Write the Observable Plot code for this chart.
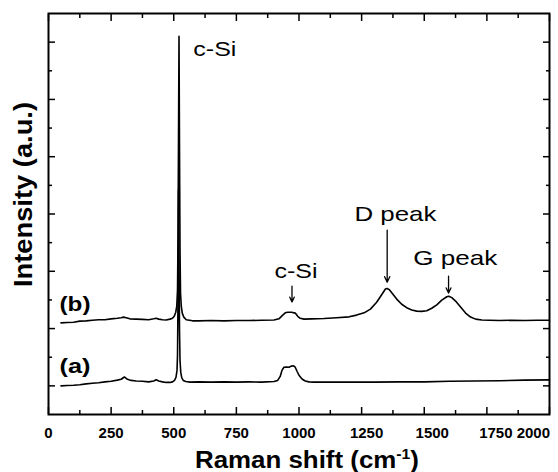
<!DOCTYPE html>
<html><head><meta charset="utf-8">
<script src="https://cdn.jsdelivr.net/npm/d3@7"></script>
<script src="https://cdn.jsdelivr.net/npm/@observablehq/plot@0.6"></script>
<style>html,body{margin:0;padding:0;background:#fff;}</style>
</head><body><div id="chart"></div>
<script>
// ---- data ----
const xMajor = [0, 250, 500, 750, 1000, 1250, 1500, 1750, 2000];
const xMinor = [125, 375, 625, 875, 1125, 1375, 1625, 1875];
const yMajor = [1, 3, 5, 7, 9, 11, 13];
const yMinor = [2, 4, 6, 8, 10, 12];

// spectrum (b)
const bShift = [50,75,100,125,150,175,200,225,250,275,290,300,310,325,350,375,400,420,430,440,455,470,485,495,502,508,512,515,517,519,521,523,525,527,530,534,540,550,575,600,650,700,750,800,850,900,920,935,945,955,970,985,995,1005,1020,1050,1100,1150,1200,1230,1260,1285,1310,1330,1345,1352,1360,1375,1390,1410,1430,1450,1470,1490,1510,1530,1550,1570,1590,1598,1610,1625,1645,1665,1685,1705,1730,1760,1800,1850,1900,1950,2000];
const bInt = [3.20,3.21,3.22,3.26,3.27,3.29,3.31,3.31,3.34,3.36,3.38,3.40,3.38,3.34,3.33,3.32,3.31,3.34,3.36,3.33,3.31,3.30,3.33,3.36,3.43,3.57,3.78,4.34,6.09,9.59,13.2,9.24,5.74,4.24,3.78,3.54,3.40,3.31,3.27,3.27,3.28,3.27,3.28,3.28,3.29,3.30,3.34,3.47,3.55,3.57,3.57,3.54,3.43,3.36,3.33,3.34,3.35,3.38,3.41,3.47,3.55,3.68,3.92,4.18,4.38,4.40,4.36,4.20,4.03,3.85,3.73,3.65,3.61,3.60,3.62,3.71,3.83,3.99,4.11,4.13,4.08,3.96,3.75,3.54,3.40,3.33,3.30,3.29,3.28,3.29,3.28,3.29,3.29];

// spectrum (a)
const aShift = [50,75,100,125,150,175,200,225,250,275,290,303,315,330,350,375,400,420,430,440,455,470,485,495,503,509,513,515,517,519,521,523,525,528,532,538,548,565,600,650,700,750,800,850,900,915,925,932,940,950,960,970,978,985,992,1000,1012,1025,1040,1060,1100,1200,1300,1400,1500,1600,1700,1800,1900,2000];
const aInt = [1.00,1.01,1.02,1.04,1.07,1.09,1.11,1.14,1.16,1.20,1.23,1.31,1.23,1.19,1.17,1.16,1.14,1.17,1.21,1.17,1.14,1.12,1.12,1.14,1.19,1.30,1.54,2.07,3.99,7.84,5.39,2.94,1.89,1.47,1.28,1.19,1.15,1.13,1.14,1.13,1.14,1.13,1.14,1.13,1.15,1.19,1.33,1.54,1.65,1.66,1.65,1.69,1.70,1.65,1.51,1.37,1.24,1.17,1.14,1.13,1.13,1.13,1.13,1.14,1.14,1.16,1.17,1.18,1.20,1.21];

// annotations
const noteText = ["c-Si", "c-Si", "D peak", "G peak", "(b)", "(a)"];
const noteX    = [664, 988, 1385, 1624, 44, 44];
const noteY    = [12.51, 4.78, 6.76, 5.22, 3.61, 1.45];
const noteBold = [false, false, false, false, true, true];

const arrowX  = [972, 1352, 1597];
const arrowY1 = [4.48, 6.44, 4.83];
const arrowY2 = [3.93, 4.62, 4.24];

const xLabel = "Raman shift (cm";
const xLabelSup = "-1";
const yLabel = "Intensity (a.u.)";

// ---- tables ----
const specA = aShift.map((x, i) => ({x, y: aInt[i]}));
const specB = bShift.map((x, i) => ({x, y: bInt[i]}));
const notes = noteText.map((t, i) => ({t, x: noteX[i], y: noteY[i], bold: noteBold[i]}));
const arrows = arrowX.map((x, i) => ({x, y1: arrowY1[i], y2: arrowY2[i]}));

const font = "'Liberation Sans', Arial, Helvetica, sans-serif";
const noTxt = () => "";
const tickLab = (ticks, opts) => Plot.axisX({anchor: "bottom", ticks, tickSize: 0, tickPadding: 13, label: null, fontSize: 15, fontWeight: "bold", tickFormat: d => String(d), ...opts});

const svg = Plot.plot({
  width: 558,
  height: 472,
  marginLeft: 48,
  marginRight: 9,
  marginTop: 13,
  marginBottom: 58,
  style: {fontFamily: font, background: "white", color: "black"},
  x: {domain: [0, 2000]},
  y: {domain: [0, 14]},
  marks: [
    // inward ticks, all four sides
    Plot.axisX({anchor: "bottom", ticks: xMajor, tickSize: -7, tickFormat: noTxt, label: null, strokeWidth: 1.5}),
    Plot.axisX({anchor: "bottom", ticks: xMinor, tickSize: -4, tickFormat: noTxt, label: null, strokeWidth: 1.5}),
    Plot.axisX({anchor: "top", ticks: xMajor, tickSize: -7, tickFormat: noTxt, label: null, strokeWidth: 1.5}),
    Plot.axisX({anchor: "top", ticks: xMinor, tickSize: -4, tickFormat: noTxt, label: null, strokeWidth: 1.5}),
    Plot.axisY({anchor: "left", ticks: yMajor, tickSize: -7, tickFormat: noTxt, label: null, strokeWidth: 1.5}),
    Plot.axisY({anchor: "left", ticks: yMinor, tickSize: -4, tickFormat: noTxt, label: null, strokeWidth: 1.5}),
    Plot.axisY({anchor: "right", ticks: yMajor, tickSize: -7, tickFormat: noTxt, label: null, strokeWidth: 1.5}),
    Plot.axisY({anchor: "right", ticks: yMinor, tickSize: -4, tickFormat: noTxt, label: null, strokeWidth: 1.5}),
    // bottom tick labels
    tickLab(xMajor.slice(0, 5), {}),
    tickLab(xMajor.slice(5, 6), {dx: 5}),
    tickLab(xMajor.slice(6, 7), {dx: 8}),
    tickLab(xMajor.slice(7, 8), {dx: 9}),
    tickLab(xMajor.slice(8), {textAnchor: "end", dx: 0.5}),
    // spectra
    Plot.line(specA, {x: "x", y: "y", stroke: "black", strokeWidth: 1.6}),
    Plot.line(specB, {x: "x", y: "y", stroke: "black", strokeWidth: 1.6}),
    // arrows
    Plot.arrow(arrows, {x1: "x", x2: "x", y1: "y1", y2: "y2", stroke: "black", strokeWidth: 1.3, headLength: 7, headAngle: 50}),
    // annotations
    Plot.text(notes.filter(d => !d.bold), {x: "x", y: "y", text: "t", textAnchor: "middle", lineAnchor: "bottom", fontSize: 21, fill: "black"}),
    Plot.text(notes.filter(d => d.bold), {x: "x", y: "y", text: "t", textAnchor: "start", lineAnchor: "bottom", fontSize: 21, fontWeight: "bold", fill: "black"}),
    Plot.frame({stroke: "black", strokeWidth: 2})
  ]
});

// stretch annotation text to the widths seen in the picture
const lens = {"c-Si": 43, "D peak": 82, "G peak": 84, "(a)": 31, "(b)": 31};
d3.select(svg).selectAll("text").each(function () {
  const w = lens[this.textContent];
  if (w) { this.setAttribute("textLength", w); this.setAttribute("lengthAdjust", "spacingAndGlyphs"); }
});

// axis titles
const s = d3.select(svg);
const xt = s.append("text")
  .attr("x", 307).attr("y", 468)
  .attr("text-anchor", "middle")
  .attr("font-family", font).attr("font-weight", "bold").attr("font-size", 23)
  .attr("fill", "black")
  .attr("textLength", 224).attr("lengthAdjust", "spacingAndGlyphs");
xt.append("tspan").text(xLabel);
xt.append("tspan").attr("font-size", 14).attr("dy", -9).text(xLabelSup);
xt.append("tspan").attr("dy", 9).text(")");

s.append("text")
  .attr("transform", "translate(31.5,194.5) rotate(-90)")
  .attr("text-anchor", "middle")
  .attr("font-family", font).attr("font-weight", "bold").attr("font-size", 25)
  .attr("fill", "black")
  .attr("textLength", 185).attr("lengthAdjust", "spacingAndGlyphs")
  .text(yLabel);

document.getElementById("chart").appendChild(svg);
</script>
</body></html>
